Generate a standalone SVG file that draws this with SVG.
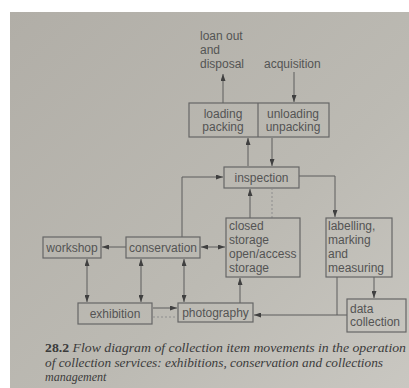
<svg xmlns="http://www.w3.org/2000/svg" width="409" height="388" viewBox="0 0 409 388">
<defs>
<linearGradient id="paper" x1="0" y1="0" x2="1" y2="1">
<stop offset="0" stop-color="#b1aea7"/>
<stop offset="0.6" stop-color="#bcbab3"/>
<stop offset="1" stop-color="#c9c7c1"/>
</linearGradient>
<marker id="ah" viewBox="0 0 7 5" refX="7" refY="2.5" markerWidth="7" markerHeight="5" markerUnits="userSpaceOnUse" orient="auto-start-reverse">
<path d="M0,0 L7,2.5 L0,5 Z" fill="#404040"/>
</marker>
<style>
.box{fill:none;stroke:#666;stroke-width:1.2}
.t{font-family:"Liberation Sans",Arial,sans-serif;font-size:12px;fill:#545454}
.c{text-anchor:middle}
.ln{fill:none;stroke:#5c5c5c;stroke-width:1}
.dash{fill:none;stroke:#8e8e8e;stroke-width:1;stroke-dasharray:2,2}
.cap{font-family:"Liberation Serif","Times New Roman",serif;font-size:12px;fill:#3b3b3b;font-style:italic}
</style>
</defs>
<rect x="0" y="0" width="409" height="388" fill="#ffffff"/>
<rect x="10" y="12" width="399" height="376" fill="url(#paper)"/>

<g id="connectors">
<line class="ln" x1="223" y1="103" x2="223" y2="74" marker-end="url(#ah)"/>
<line class="ln" x1="294" y1="72" x2="294" y2="102" marker-end="url(#ah)"/>
<line class="ln" x1="248" y1="166" x2="248" y2="138" marker-end="url(#ah)"/>
<line class="ln" x1="272" y1="138" x2="272" y2="166" marker-end="url(#ah)"/>
<path class="ln" d="M182,237 V177 H223" marker-end="url(#ah)"/>
<path class="ln" d="M299,176 H335 V217" marker-end="url(#ah)"/>
<line class="ln" x1="250" y1="218" x2="250" y2="189" marker-end="url(#ah)"/>
<line class="dash" x1="272" y1="218" x2="272" y2="189"/>
<line class="ln" x1="126" y1="247" x2="102" y2="247" marker-end="url(#ah)"/>
<line class="ln" x1="201" y1="247" x2="225" y2="247" marker-start="url(#ah)" marker-end="url(#ah)"/>
<line class="ln" x1="87" y1="259" x2="87" y2="302" marker-start="url(#ah)" marker-end="url(#ah)"/>
<line class="ln" x1="141" y1="259" x2="141" y2="302" marker-start="url(#ah)" marker-end="url(#ah)"/>
<line class="ln" x1="184" y1="259" x2="184" y2="302" marker-start="url(#ah)" marker-end="url(#ah)"/>
<line class="ln" x1="153" y1="308" x2="177" y2="308" marker-end="url(#ah)"/>
<line class="dash" x1="153" y1="317" x2="177" y2="317"/>
<line class="ln" x1="240" y1="303" x2="240" y2="278" marker-end="url(#ah)"/>
<line class="ln" x1="374" y1="277" x2="374" y2="298" marker-end="url(#ah)"/>
<path class="ln" d="M337,277 V315"/>
<path class="ln" d="M347,315 H254" marker-end="url(#ah)"/>
</g>

<g id="loan_out">
<text class="t" x="200" y="40">loan out</text>
<text class="t" x="200" y="54">and</text>
<text class="t" x="200" y="68">disposal</text>
</g>
<g id="acquisition">
<text class="t" x="264" y="68">acquisition</text>
</g>
<g id="loading">
<rect class="box" x="189" y="103" width="140" height="34"/>
<line class="box" x1="258" y1="103" x2="258" y2="137"/>
<text class="t c" x="223" y="118">loading</text>
<text class="t c" x="223" y="131">packing</text>
<text class="t c" x="293" y="118">unloading</text>
<text class="t c" x="293" y="131">unpacking</text>
</g>
<g id="inspection">
<rect class="box" x="224" y="167" width="75" height="21"/>
<text class="t c" x="261.5" y="182">inspection</text>
</g>
<g id="storage">
<rect class="box" x="226" y="218" width="74" height="59"/>
<text class="t" x="229" y="230">closed</text>
<text class="t" x="229" y="244">storage</text>
<text class="t" x="229" y="258">open/access</text>
<text class="t" x="229" y="272">storage</text>
</g>
<g id="labelling">
<rect class="box" x="326" y="218" width="66" height="59"/>
<text class="t" x="328" y="230">labelling,</text>
<text class="t" x="328" y="244">marking</text>
<text class="t" x="328" y="258">and</text>
<text class="t" x="328" y="272">measuring</text>
</g>
<g id="workshop">
<rect class="box" x="43" y="237" width="58" height="21"/>
<text class="t c" x="72" y="252">workshop</text>
</g>
<g id="conservation">
<rect class="box" x="126" y="237" width="74" height="21"/>
<text class="t c" x="163" y="252">conservation</text>
</g>
<g id="exhibition">
<rect class="box" x="78" y="303" width="74" height="21"/>
<text class="t c" x="115" y="318">exhibition</text>
</g>
<g id="photography">
<rect class="box" x="178" y="303" width="75" height="19"/>
<text class="t c" x="215.5" y="317">photography</text>
</g>
<g id="data_collection">
<rect class="box" x="347" y="299" width="59" height="33"/>
<text class="t" x="350" y="313">data</text>
<text class="t" x="350" y="326">collection</text>
</g>

<g id="caption">
<text class="cap" x="45" y="352" textLength="361" lengthAdjust="spacingAndGlyphs"><tspan font-weight="bold" font-style="normal">28.2</tspan> Flow diagram of collection item movements in the operation</text>
<text class="cap" x="45" y="367" textLength="338" lengthAdjust="spacingAndGlyphs">of collection services: exhibitions, conservation and collections</text>
<text class="cap" x="45" y="381">management</text>
</g>
</svg>
